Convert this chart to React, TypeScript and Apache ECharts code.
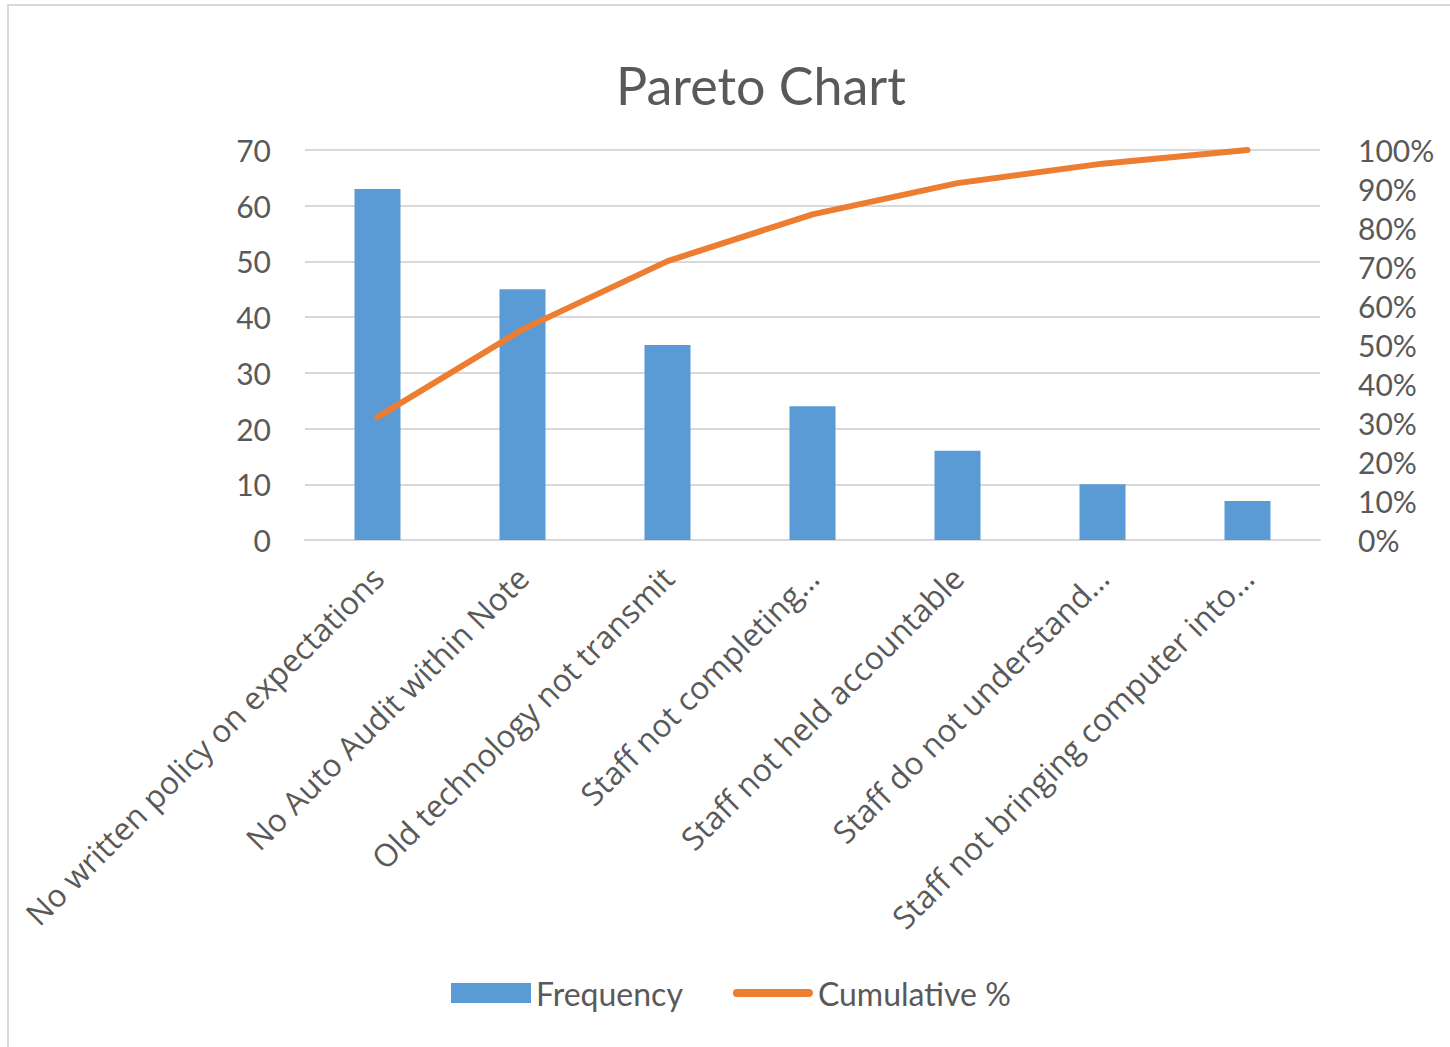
import React, { useEffect, useRef } from "react";
import * as echarts from "echarts";

const categories = [
  "No written policy on expectations",
  "No Auto Audit within Note",
  "Old technology not transmit",
  "Staff not completing…",
  "Staff not held accountable",
  "Staff do not understand…",
  "Staff not bringing computer into…",
];
const frequency = [63, 45, 35, 24, 16, 10, 7];
const cumulativePct = [31.5, 54, 71.5, 83.5, 91.5, 96.5, 100];

const FONT = "Lato, 'Open Sans', sans-serif";
const CAT_FONT = "'Open Sans', Lato, sans-serif";
const TXT = "#595959";

export default function App() {
  const ref = useRef<HTMLDivElement>(null);
  useEffect(() => {
    const chart = echarts.init(ref.current!, null, { renderer: "svg" });
    chart.setOption({
      animation: false,
      backgroundColor: "#ffffff",
      textStyle: { fontFamily: FONT },
      title: {
        text: "Pareto Chart",
        left: 756,
        top: 54,
        textAlign: "center",
        textStyle: { fontFamily: FONT, fontSize: 52, fontWeight: "normal", color: TXT },
      },
      graphic: [
        {
          type: "rect",
          shape: { x: 8, y: 5, width: 1460, height: 1070 },
          style: { fill: "none", stroke: "#D9D9D9", lineWidth: 2 },
          silent: true,
        },
      ],
      legend: {
        bottom: 33,
        left: 446,
        itemGap: 50,
        itemWidth: 80,
        itemHeight: 20,
        textStyle: { fontFamily: FONT, fontSize: 32, color: TXT },
        data: [
          { name: "Frequency", icon: "rect" },
          {
            name: "Cumulative %",
            icon: "path://M4,0 L76,0 A4,4 0 0 1 76,8 L4,8 A4,4 0 0 1 4,0 Z",
            itemStyle: { color: "#ED7D31" },
          },
        ],
      },
      grid: { left: 305, right: 130, top: 150, bottom: 507, containLabel: false },
      xAxis: {
        type: "category",
        data: categories,
        axisLine: { lineStyle: { color: "#D9D9D9", width: 2 } },
        axisTick: { show: false },
        axisLabel: {
          interval: 0,
          rotate: 45,
          margin: 32,
          fontFamily: CAT_FONT,
          fontSize: 31.5,
          color: TXT,
        },
      },
      yAxis: [
        {
          type: "value",
          min: 0,
          max: 70,
          interval: 10,
          axisLine: { show: false },
          axisTick: { show: false },
          splitLine: { lineStyle: { color: "#D9D9D9", width: 2 } },
          axisLabel: { margin: 34, fontFamily: FONT, fontSize: 30, color: TXT },
        },
        {
          type: "value",
          min: 0,
          max: 100,
          interval: 10,
          axisLine: { show: false },
          axisTick: { show: false },
          splitLine: { show: false },
          axisLabel: {
            margin: 38,
            formatter: "{value}%",
            fontFamily: FONT,
            fontSize: 30,
            color: TXT,
          },
        },
      ],
      series: [
        {
          name: "Frequency",
          type: "bar",
          data: frequency,
          barWidth: 46,
          itemStyle: { color: "#5B9BD5" },
        },
        {
          name: "Cumulative %",
          type: "line",
          yAxisIndex: 1,
          data: cumulativePct,
          symbol: "none",
          lineStyle: { color: "#ED7D31", width: 6, cap: "round" },
          itemStyle: { color: "#ED7D31" },
        },
      ],
    });
    return () => chart.dispose();
  }, []);
  return (
    <div
      ref={ref}
      style={{ position: "absolute", left: 0, top: 0, width: 1450, height: 1047 }}
    />
  );
}
